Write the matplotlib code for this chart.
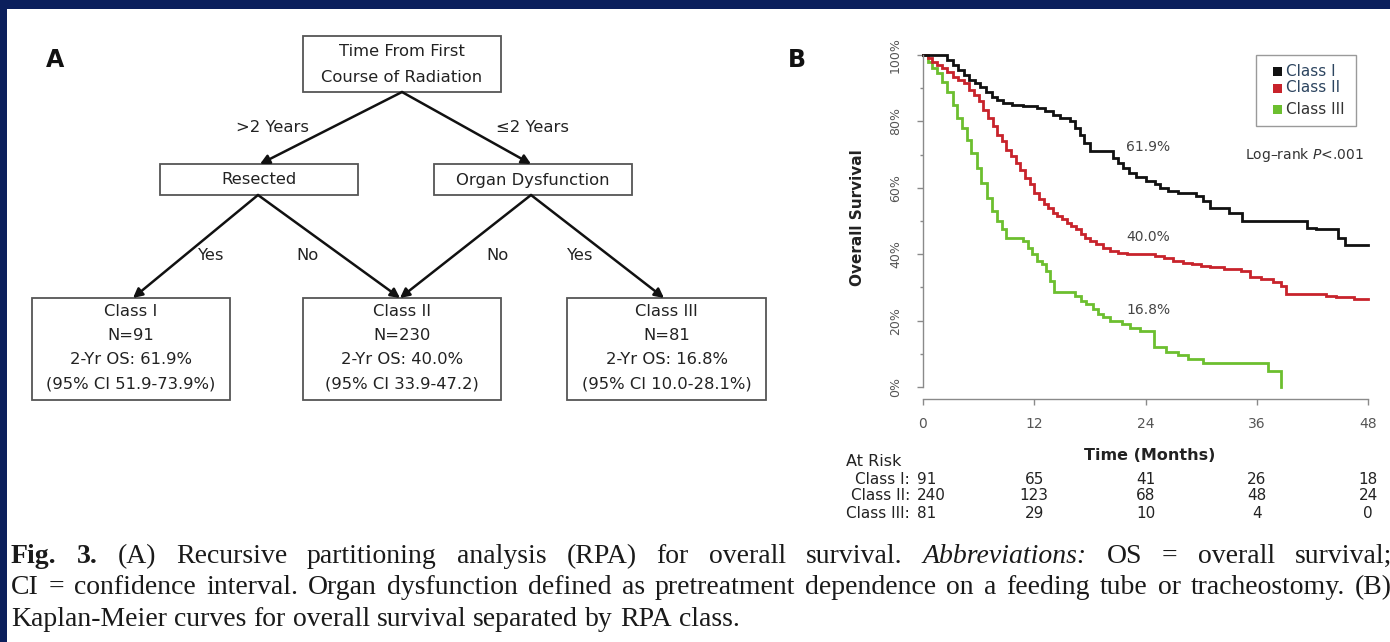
import matplotlib
matplotlib.use("Agg")
import matplotlib.pyplot as plt
from matplotlib.patches import Rectangle
from matplotlib.transforms import blended_transform_factory
import numpy as np

# ---------------- data ----------------
classes = ["Class I", "Class II", "Class III"]
curve_colors = ["#111111", "#c8232b", "#6cbf2f"]
n_patients = [91, 230, 81]
two_year_os = [61.9, 40.0, 16.8]
ci_labels = ["(95% CI 51.9-73.9%)", "(95% CI 33.9-47.2)", "(95% CI 10.0-28.1%)"]

months_I = [0, 2.6, 3.2, 3.8, 4.4, 5.0, 5.6, 6.2, 6.8, 7.4, 8.0, 8.6, 9.6, 10.8,
            12.3, 13.2, 14.0, 14.8, 15.9, 16.4, 16.9, 17.4, 18.0, 20.5, 21.0,
            21.6, 22.2, 23.0, 24.0, 25.0, 25.6, 26.4, 27.5, 29.4, 30.2, 31.0,
            33.0, 34.4, 41.4, 42.4, 44.8, 45.5, 48.0]
surv_I = [1.0, 0.985, 0.97, 0.955, 0.94, 0.925, 0.915, 0.905, 0.89, 0.875, 0.865,
          0.855, 0.85, 0.845, 0.84, 0.83, 0.82, 0.81, 0.80, 0.78, 0.76, 0.735,
          0.71, 0.69, 0.675, 0.66, 0.645, 0.633, 0.619, 0.61, 0.60, 0.59, 0.585,
          0.575, 0.56, 0.54, 0.525, 0.50, 0.48, 0.475, 0.45, 0.428, 0.428]

months_II = [0, 0.5, 1.0, 1.5, 2.0, 2.6, 3.2, 3.8, 4.4, 5.0, 5.5, 6.0, 6.5, 7.0,
             7.5, 8.0, 8.5, 9.0, 9.5, 10.0, 10.5, 11.0, 11.5, 12.0, 12.5, 13.0,
             13.5, 14.0, 14.5, 15.0, 15.5, 16.0, 16.5, 17.0, 17.5, 18.0, 18.7,
             19.4, 20.2, 21.0, 22.0, 24.0, 25.0, 26.0, 27.0, 28.0, 29.0, 30.0,
             31.0, 32.5, 34.3, 35.3, 36.5, 37.8, 38.6, 39.2, 43.5, 44.5, 46.5, 48.0]
surv_II = [1.0, 0.99, 0.98, 0.97, 0.96, 0.95, 0.935, 0.925, 0.915, 0.895, 0.88,
           0.86, 0.835, 0.81, 0.785, 0.76, 0.74, 0.715, 0.695, 0.675, 0.655, 0.63,
           0.61, 0.585, 0.565, 0.55, 0.54, 0.525, 0.515, 0.505, 0.495, 0.485,
           0.475, 0.46, 0.45, 0.44, 0.43, 0.42, 0.41, 0.405, 0.40, 0.40, 0.395,
           0.39, 0.38, 0.375, 0.37, 0.365, 0.36, 0.355, 0.35, 0.33, 0.325, 0.315,
           0.305, 0.28, 0.275, 0.27, 0.265, 0.265]

months_III = [0, 0.5, 1.0, 1.5, 2.0, 2.6, 3.2, 3.7, 4.2, 4.7, 5.2, 5.8, 6.3, 6.9,
              7.4, 8.0, 8.5, 9.0, 10.8, 11.3, 11.8, 12.3, 12.8, 13.3, 13.7, 14.1,
              16.4, 17.0, 17.6, 18.3, 18.9, 19.4, 20.2, 21.5, 22.3, 23.4, 24.9,
              26.2, 27.5, 28.6, 30.2, 37.2, 38.6]
surv_III = [1.0, 0.98, 0.96, 0.945, 0.92, 0.89, 0.85, 0.81, 0.78, 0.745, 0.705,
            0.66, 0.615, 0.57, 0.53, 0.50, 0.475, 0.45, 0.44, 0.42, 0.40, 0.38,
            0.37, 0.35, 0.32, 0.285, 0.275, 0.26, 0.25, 0.235, 0.22, 0.21, 0.20,
            0.19, 0.178, 0.168, 0.12, 0.105, 0.095, 0.085, 0.073, 0.048, 0.0]

risk_months = [0, 12, 24, 36, 48]
at_risk_I = [91, 65, 41, 26, 18]
at_risk_II = [240, 123, 68, 48, 24]
at_risk_III = [81, 29, 10, 4, 0]
y_ticks = [0, 0.2, 0.4, 0.6, 0.8, 1.0]
y_tick_labels = ["0%", "20%", "40%", "60%", "80%", "100%"]

assert len(months_I) == len(surv_I)
assert len(months_II) == len(surv_II)
assert len(months_III) == len(surv_III)

# ---------------- figure ----------------
W, H = 1390, 642
plt.rcParams["font.family"] = ["DejaVu Sans"]
fig = plt.figure(figsize=(W / 100, H / 100), dpi=100)
fig.patch.set_facecolor("white")

TXT = "#222222"
GRAY = "#8a8a8a"

# Kaplan-Meier panel
ax = fig.add_axes([923 / W, 1 - 387 / H, 445 / W, 332 / H])
ax.set_facecolor("none")
ax.set_xlim(0, 48)
ax.set_ylim(0, 1)
curves = [(months_III, surv_III, curve_colors[2]),
          (months_II, surv_II, curve_colors[1]),
          (months_I, surv_I, curve_colors[0])]
for t, s, c in curves:
    ax.step(t, s, where="post", color=c, lw=2.0, clip_on=False,
            solid_joinstyle="miter")

for sp in ("top", "right"):
    ax.spines[sp].set_visible(False)
for sp in ("left", "bottom"):
    ax.spines[sp].set_color(GRAY)
    ax.spines[sp].set_linewidth(1.0)
ax.spines["bottom"].set_position(("outward", 8.6))

ax.set_xticks(risk_months)
ax.set_xticklabels([str(m) for m in risk_months])
ax.set_yticks(y_ticks)
ax.set_yticklabels(y_tick_labels)
ax.set_yticks(np.arange(0.1, 1.0, 0.2), minor=True)
ax.tick_params(axis="y", which="major", length=4, width=1, color=GRAY,
               labelsize=9, labelcolor="#555555", pad=11, labelrotation=90)
ax.tick_params(axis="y", which="minor", length=2.5, width=1, color=GRAY)
ax.tick_params(axis="x", which="major", length=4, width=1, color=GRAY,
               labelsize=10, labelcolor="#555555", pad=9)
for lab in ax.get_yticklabels():
    lab.set_va("center")

# 2-year survival labels
label_offsets = [34, 17, 21]
for v, off in zip(two_year_os, label_offsets):
    ax.annotate(f"{v:.1f}%", xy=(24, v / 100), xytext=(3, off),
                textcoords="offset pixels", ha="center", va="center",
                fontsize=10, color="#444444")

# overlay in figure pixel coordinates
ov = fig.add_axes([0, 0, 1, 1], zorder=5)
ov.set_xlim(0, W)
ov.set_ylim(H, 0)
ov.axis("off")
ov.patch.set_alpha(0)

# page frame
NAVY = "#0b1f5c"
ov.add_patch(Rectangle((0, 0), W, 9, color=NAVY, lw=0))
ov.add_patch(Rectangle((0, 0), 7, H, color=NAVY, lw=0))

# panel letters
ov.text(55, 60, "A", fontsize=17, fontweight="bold", ha="center", va="center", color="#111")
ov.text(797, 60, "B", fontsize=17, fontweight="bold", ha="center", va="center", color="#111")

# ---------- panel A: partition tree ----------
BOX_EC = "#555555"
TREE_FS = 11.8


def box(x0, y0, x1, y1):
    ov.add_patch(Rectangle((x0, y0), x1 - x0, y1 - y0, fill=False,
                           ec=BOX_EC, lw=1.3))


def arrow(p0, p1):
    ov.annotate("", xy=p1, xytext=p0,
                arrowprops=dict(arrowstyle="-|>,head_length=0.55,head_width=0.28",
                                color="#111111", lw=1.8, shrinkA=0, shrinkB=0))


box(303, 36, 501, 92)
ov.text(402, 51, "Time From First", fontsize=TREE_FS, ha="center", va="center", color=TXT)
ov.text(402, 77, "Course of Radiation", fontsize=TREE_FS, ha="center", va="center", color=TXT)

box(160, 164, 358, 195)
ov.text(259, 180, "Resected", fontsize=TREE_FS, ha="center", va="center", color=TXT)
box(434, 164, 632, 195)
ov.text(533, 180, "Organ Dysfunction", fontsize=TREE_FS, ha="center", va="center", color=TXT)

leaf_x = [(32, 230), (303, 501), (567, 766)]
for (x0, x1), cls, n, os2, ci in zip(leaf_x, classes, n_patients, two_year_os, ci_labels):
    box(x0, 298, x1, 400)
    cx = (x0 + x1) / 2
    ov.text(cx, 311, cls, fontsize=TREE_FS, ha="center", va="center", color=TXT)
    ov.text(cx, 335, f"N={n}", fontsize=TREE_FS, ha="center", va="center", color=TXT)
    ov.text(cx, 359, f"2-Yr OS: {os2:.1f}%", fontsize=TREE_FS, ha="center", va="center", color=TXT)
    ov.text(cx, 384, ci, fontsize=TREE_FS, ha="center", va="center", color=TXT)

arrow((402, 92), (260, 164))
arrow((402, 92), (531, 164))
arrow((258, 195), (133, 298))
arrow((258, 195), (400, 298))
arrow((531, 195), (400, 298))
arrow((531, 195), (664, 298))

ov.text(273, 127, ">2 Years", fontsize=TREE_FS, ha="center", va="center", color=TXT)
ov.text(533, 127, "\u22642 Years", fontsize=TREE_FS, ha="center", va="center", color=TXT)
ov.text(211, 255, "Yes", fontsize=TREE_FS, ha="center", va="center", color=TXT)
ov.text(308, 255, "No", fontsize=TREE_FS, ha="center", va="center", color=TXT)
ov.text(498, 255, "No", fontsize=TREE_FS, ha="center", va="center", color=TXT)
ov.text(580, 255, "Yes", fontsize=TREE_FS, ha="center", va="center", color=TXT)

# ---------- panel B extras ----------
ov.text(858, 218, "Overall Survival", fontsize=11, fontweight="bold", rotation=90,
        ha="center", va="center", color=TXT)
ov.text(1150, 455, "Time (Months)", fontsize=11.5, fontweight="bold",
        ha="center", va="center", color=TXT)

# legend
ov.add_patch(Rectangle((1256, 55), 100, 71, fill=False, ec="#9a9a9a", lw=1.0))
legend_y = [71, 88, 109]
legend_text_colors = ["#2d4560", "#2d4560", "#333333"]
for yy, cls, c, tc in zip(legend_y, classes, curve_colors, legend_text_colors):
    ov.add_patch(Rectangle((1273, yy - 4), 9, 9, color=c, lw=0))
    ov.text(1286, yy, cls, fontsize=11, ha="left", va="center", color=tc)

ov.text(1305, 155, "Log\u2013rank $\\mathit{P}$<.001",
        fontsize=10, ha="center", va="center", color="#333333")

# numbers at risk
RISK_FS = 11
ov.text(874, 461, "At Risk", fontsize=RISK_FS + 0.5, ha="center", va="center", color=TXT)
risk_rows = [at_risk_I, at_risk_II, at_risk_III]
row_y = [479, 496, 514]
mix = blended_transform_factory(ax.transData, ov.transData)
for cls, counts, yy in zip(classes, risk_rows, row_y):
    ov.text(910, yy, cls + ":", fontsize=RISK_FS, ha="right", va="center", color=TXT)
    for i, (m, c) in enumerate(zip(risk_months, counts)):
        if i == 0:
            # first column starts just after the row label
            ov.annotate(str(c), xy=(m, yy), xycoords=mix, xytext=(-6, 0),
                        textcoords="offset pixels", fontsize=RISK_FS,
                        ha="left", va="center", color=TXT)
        else:
            ov.text(m, yy, str(c), transform=mix, fontsize=RISK_FS, ha="center",
                    va="center", color=TXT)

# ---------- caption ----------
CAP_FONT = "Liberation Serif"
CAP_FS = 20
renderer = fig.canvas.get_renderer()


def caption_line(tokens, y, x0, x1=None):
    items = []
    for word, weight, style in tokens:
        t = ov.text(0, y, word, fontsize=CAP_FS, family=CAP_FONT, fontweight=weight,
                    fontstyle=style, ha="left", va="baseline", color="#1a1a1a")
        items.append(t)
    widths = [t.get_window_extent(renderer).width for t in items]
    probe = ov.text(0, y, "a a", fontsize=CAP_FS, family=CAP_FONT)
    sw = probe.get_window_extent(renderer).width
    probe.remove()
    probe = ov.text(0, y, "aa", fontsize=CAP_FS, family=CAP_FONT)
    sw -= probe.get_window_extent(renderer).width
    probe.remove()
    gap = sw if x1 is None else (x1 - x0 - sum(widths)) / (len(items) - 1)
    x = x0
    for t, w in zip(items, widths):
        t.set_x(x)
        x += w + gap


def plain(s):
    return [(w, "normal", "normal") for w in s.split()]


line1 = ([("Fig.", "bold", "normal"), ("3.", "bold", "normal")]
         + plain("(A) Recursive partitioning analysis (RPA) for overall survival.")
         + [("Abbreviations:", "normal", "italic")]
         + plain("OS = overall survival;"))
line2 = plain("CI = confidence interval. Organ dysfunction defined as pretreatment "
              "dependence on a feeding tube or tracheostomy. (B)")
line3 = plain("Kaplan-Meier curves for overall survival separated by RPA class.")

caption_line(line1, 563, 11, 1392)
caption_line(line2, 594, 11, 1392)
caption_line(line3, 626, 11)

fig.savefig("out.png", dpi=100, facecolor="white")
